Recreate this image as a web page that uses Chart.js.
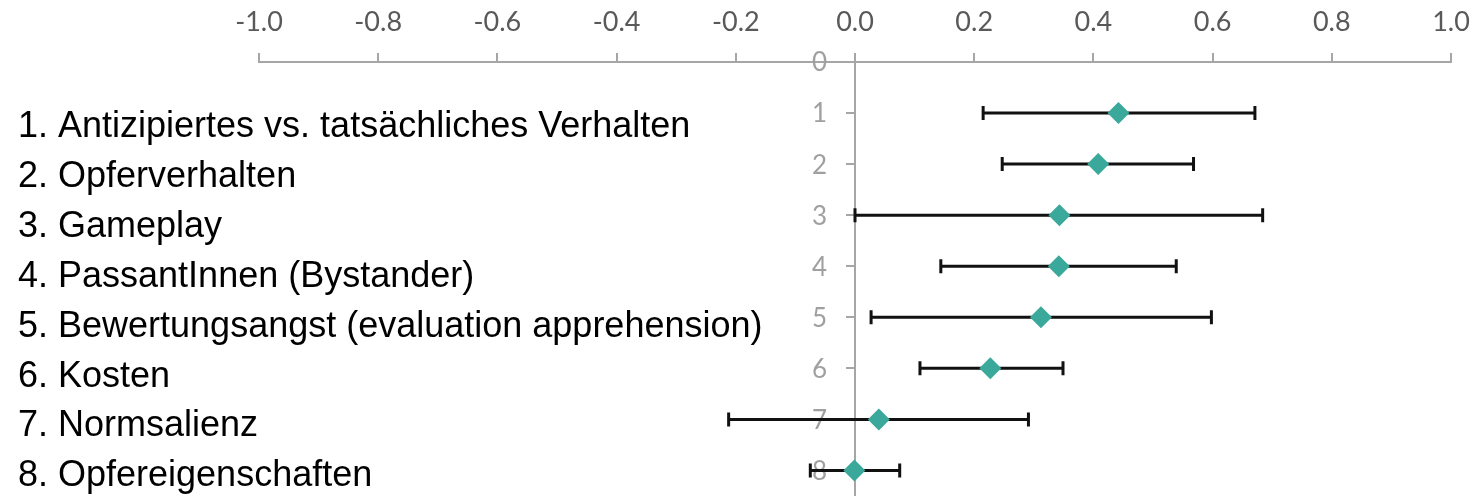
<!DOCTYPE html>
<html>
<head>
<meta charset="utf-8">
<script src="https://cdn.jsdelivr.net/npm/chart.js@4.4.0/dist/chart.umd.min.js"></script>
<style>
  html, body { margin: 0; padding: 0; background: #fff; }
  #wrap { width: 1475px; height: 496px; }
</style>
</head>
<body>
<div id="wrap"><canvas id="chart"></canvas></div>
<script>
const categories = [
    '1. Antizipiertes vs. tatsächliches Verhalten',
    '2. Opferverhalten',
    '3. Gameplay',
    '4. PassantInnen (Bystander)',
    '5. Bewertungsangst (evaluation apprehension)',
    '6. Kosten',
    '7. Normsalienz',
    '8. Opfereigenschaften'
];
const rows = [1, 2, 3, 4, 5, 6, 7, 8];
const estimates = [0.442, 0.408, 0.343, 0.342, 0.312, 0.227, 0.040, -0.001];
const lower = [0.215, 0.247, 0.000, 0.144, 0.027, 0.109, -0.212, -0.075];
const upper = [0.671, 0.568, 0.684, 0.539, 0.598, 0.349, 0.291, 0.075];
const xTicks = [-1.0, -0.8, -0.6, -0.4, -0.2, 0.0, 0.2, 0.4, 0.6, 0.8, 1.0];
const yTicks = [0, 1, 2, 3, 4, 5, 6, 7, 8];

const axisGray = '#a6a6a6';
const teal = '#3aa89a';

// no extra room for overflowing end labels, the layout padding decides
function noOverflow(scale) {
    scale.paddingLeft = 0;
    scale.paddingRight = 0;
    scale.paddingTop = 0;
    scale.paddingBottom = 0;
}

// y labels sit left of the centred axis, error bars go under the diamonds
const underMarks = {
    id: 'underMarks',
    beforeDatasetsDraw(chart) {
        const {ctx, scales: {x, y}} = chart;
        const x0 = x.getPixelForValue(0);
        ctx.save();
        ctx.font = '26px Lato';
        ctx.fillStyle = '#a0a0a0';
        ctx.textAlign = 'right';
        ctx.textBaseline = 'middle';
        for (const v of yTicks) {
            ctx.fillText(String(v), x0 - 28, y.getPixelForValue(v) + 1);
        }

        ctx.strokeStyle = '#111';
        ctx.lineWidth = 3;
        for (let i = 0; i < rows.length; i++) {
            const py = y.getPixelForValue(rows[i]);
            const a = x.getPixelForValue(lower[i]);
            const b = x.getPixelForValue(upper[i]);
            ctx.beginPath();
            ctx.moveTo(a, py);
            ctx.lineTo(b, py);
            ctx.moveTo(a, py - 7);
            ctx.lineTo(a, py + 7);
            ctx.moveTo(b, py - 7);
            ctx.lineTo(b, py + 7);
            ctx.stroke();
        }
        ctx.restore();
    }
};

const categoryText = {
    id: 'categoryText',
    afterDatasetsDraw(chart) {
        const {ctx} = chart;
        ctx.save();
        ctx.font = '36px "Liberation Sans", Arial, sans-serif';
        ctx.fillStyle = '#000';
        ctx.textAlign = 'left';
        ctx.textBaseline = 'alphabetic';
        categories.forEach((c, i) => {
            ctx.fillText(c, 18, 137 + i * 49.9);
        });
        ctx.restore();
    }
};

new Chart(document.getElementById('chart'), {
    type: 'scatter',
    data: {
        datasets: [{
            data: rows.map((r, i) => ({x: estimates[i], y: r})),
            pointStyle: 'rectRot',
            pointRadius: 11,
            pointHoverRadius: 11,
            backgroundColor: teal,
            borderColor: teal,
            borderWidth: 0,
            clip: false
        }]
    },
    options: {
        responsive: true,
        maintainAspectRatio: false,
        animation: false,
        layout: {autoPadding: false, padding: {left: 259, right: 24, top: -8, bottom: 0}},
        plugins: {legend: {display: false}, tooltip: {enabled: false}},
        scales: {
            x: {
                type: 'linear',
                position: 'top',
                min: -1,
                max: 1,
                afterBuildTicks: s => { s.ticks = xTicks.map(v => ({value: v})); },
                afterFit: noOverflow,
                ticks: {
                    color: '#595959',
                    font: {family: 'Lato', size: 27, lineHeight: 1},
                    padding: 17,
                    callback: v => Number(v).toFixed(1)
                },
                grid: {drawOnChartArea: false, drawTicks: true, tickLength: 9, color: axisGray, lineWidth: 2},
                border: {color: axisGray, width: 2}
            },
            y: {
                type: 'linear',
                position: {x: 0},
                reverse: true,
                min: 0,
                max: 8.5,
                afterBuildTicks: s => { s.ticks = yTicks.map(v => ({value: v})); },
                afterFit: noOverflow,
                ticks: {display: false},
                grid: {drawOnChartArea: false, drawTicks: true, tickLength: 8, color: axisGray, lineWidth: 2},
                border: {color: axisGray, width: 2}
            }
        }
    },
    plugins: [underMarks, categoryText]
});
</script>
</body>
</html>
